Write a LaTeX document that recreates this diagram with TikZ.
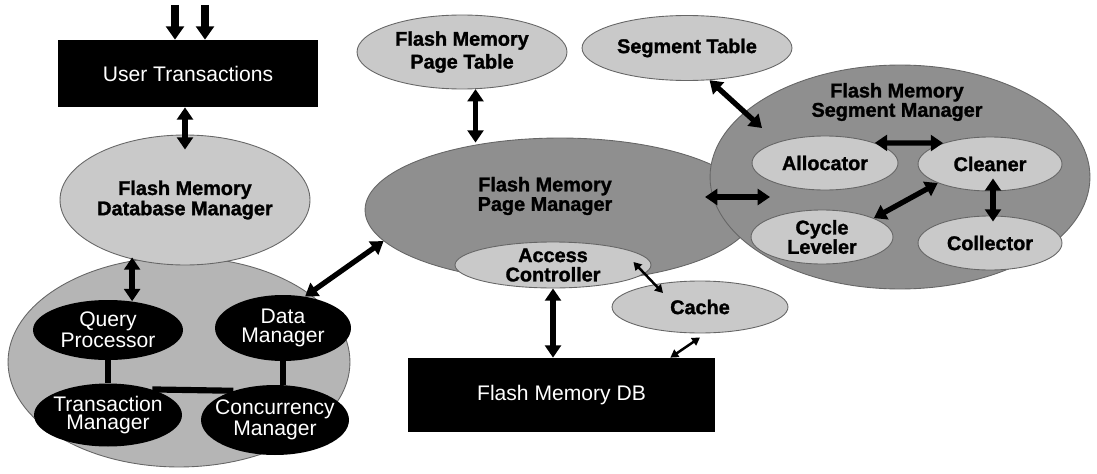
\documentclass[tikz,border=0pt]{standalone}
\usepackage{fontspec}
\setmainfont{Liberation Sans}
\newfontfamily\heavyfont{Liberation Sans Bold}[FakeBold=1.4]
\usetikzlibrary{arrows.meta,calc,shapes.geometric}

\definecolor{lightfill}{gray}{0.79}
\definecolor{darkfill}{gray}{0.56}
\definecolor{lowfill}{gray}{0.71}
\definecolor{edgegray}{gray}{0.4}

\begin{document}
\begin{tikzpicture}[x=0.02cm, y=-0.02cm,
  ell/.style={ellipse, inner sep=0pt, draw=edgegray, line width=0.5pt},
  lightell/.style={ell, fill=lightfill},
  darkell/.style={ell, fill=darkfill},
  blk/.style={ellipse, fill=black, inner sep=0pt},
  blkbox/.style={rectangle, fill=black, inner sep=0pt},
  btxt/.style={align=center, inner sep=0pt, text=black,
    font=\heavyfont\fontsize{11.3}{#1}\selectfont},
  btxt/.default=12pt,
  wtxt/.style={align=center, inner sep=0pt, text=white,
    font=\fontsize{12}{10.5}\selectfont},
  boxtxt/.style={align=center, inner sep=0pt, text=white,
    font=\fontsize{12}{14}\selectfont},
  dnarrow/.style={-{Triangle[width=10pt,length=7.5pt]}, line width=4pt},
  dbl/.style={{Triangle[width=9pt,length=7pt]}-{Triangle[width=9pt,length=7pt]}, line width=3pt},
  thinarrow/.style={{Triangle[width=5pt,length=4.5pt]}-{Triangle[width=5pt,length=4.5pt]}, line width=1.4pt},
  link/.style={line width=3.5pt}
]
\useasboundingbox (0,0) rectangle (1097,473);

% ---------- database manager side ----------
\node[blkbox, minimum width=5.2cm, minimum height=1.34cm] (ut) at (188,73.5) {};
\node[boxtxt] (ut-t) at (188,73.5) {User Transactions};

\node[ell, fill=lowfill, minimum width=6.84cm, minimum height=4.2cm] (low) at (179,362) {};
\node[lightell, minimum width=5cm, minimum height=2.6cm,
  label={[btxt=10pt]center:Flash Memory\\Database Manager}] (dbm) at (185,200) {};

\node[blk, minimum width=3cm, minimum height=1.2cm,
  label={[wtxt]center:Query\\Processor}] (qp) at (108,330) {};
\node[blk, minimum width=2.96cm, minimum height=1.26cm,
  label={[wtxt]center:Transaction\\Manager}] (tm) at (108,415) {};
\node[blk, minimum width=2.72cm, minimum height=1.32cm,
  label={[wtxt]center:Data\\Manager}] (dm) at (283,328) {};
\node[blk, minimum width=2.96cm, minimum height=1.4cm,
  label={[wtxt]center:Concurrency\\Manager}] (cm) at (275,420) {};

% ---------- page manager side ----------
\node[lightell, minimum width=4.2cm, minimum height=1.48cm,
  label={[btxt=13pt]center:Flash Memory\\Page Table}] (pt) at (462,52) {};
\node[lightell, minimum width=4.2cm, minimum height=1.3cm,
  label={[btxt]center:Segment Table}] (st) at (687,48) {};

\node[darkell, minimum width=7.8cm, minimum height=2.88cm] (pm) at (560,210) {};
\node[btxt=9pt] (pm-t) at (545,196) {Flash Memory\\Page Manager};
\node[lightell, minimum width=3.92cm, minimum height=0.92cm,
  label={[btxt=11pt]center:Access\\Controller}] (ac) at (553,265) {};

\node[lightell, minimum width=3.52cm, minimum height=1.04cm,
  label={[btxt]center:Cache}] (cache) at (700,307) {};

\node[blkbox, minimum width=6.14cm, minimum height=1.48cm] (db) at (561.5,395) {};
\node[boxtxt] (db-t) at (561.5,395) {Flash Memory DB};

% ---------- segment manager side ----------
\node[darkell, minimum width=7.6cm, minimum height=4.48cm] (sm) at (900,177) {};
\node[btxt=11pt] (sm-t) at (897,102) {Flash Memory\\Segment Manager};
\node[lightell, minimum width=2.92cm, minimum height=1.08cm,
  label={[btxt]center:Allocator}] (al) at (825,163) {};
\node[lightell, minimum width=2.88cm, minimum height=1.08cm,
  label={[btxt]center:Cleaner}] (cl) at (990,164) {};
\node[lightell, minimum width=2.84cm, minimum height=1.08cm,
  label={[btxt=11pt]center:Cycle\\Leveler}] (cy) at (822,237) {};
\node[lightell, minimum width=2.88cm, minimum height=1.08cm,
  label={[btxt]center:Collector}] (co) at (990,243) {};

% ---------- connectors ----------
\coordinate (in1) at (175,5);
\coordinate (in2) at (205,5);
\draw[dnarrow] (in1) -- (in1 |- ut.north);
\draw[dnarrow] (in2) -- (in2 |- ut.north);

\draw[dbl] (ut.south -| dbm.north) -- ($(dbm.north)+(0,15)$);
\draw[dbl, shorten >=-0.16cm] (qp.50) -- (qp.50 |- dbm.south);
\draw[link] (qp.south) -- (qp.south |- tm.north);
\draw[link] (dm.south) -- (dm.south |- cm.north);
\draw[link] (tm.30) -- (cm.145);
\draw[dbl] (dm.55) -- (pm.190);

\draw[dbl, shorten >=-0.1cm] (pt.-70) -- (pt.-70 |- pm.north);
\draw[dbl] (ac.south) -- (ac.south |- db.north);
\draw[thinarrow] ($(ac.east)+(-18,-3)$) -- ($(cache.center)+(-37,-14)$);
\draw[thinarrow] ($(cache.south)+(0,4)$) -- ($(db.north east)+(-45,0)$);

\draw[dbl] ($(pm.center)+(145,-13)$) -- ($(sm.center)+(-130,20)$);
\draw[dbl] (st.-55) -- ($(sm.center)+(-138,-49)$);
\draw[dbl] (al.22) -- (cl.156);
\draw[dbl] ($(cl.south)+(3,-13)$) -- ($(co.north)+(3,6)$);
\draw[dbl] (cl.200) -- (cy.20);
\end{tikzpicture}
\end{document}
